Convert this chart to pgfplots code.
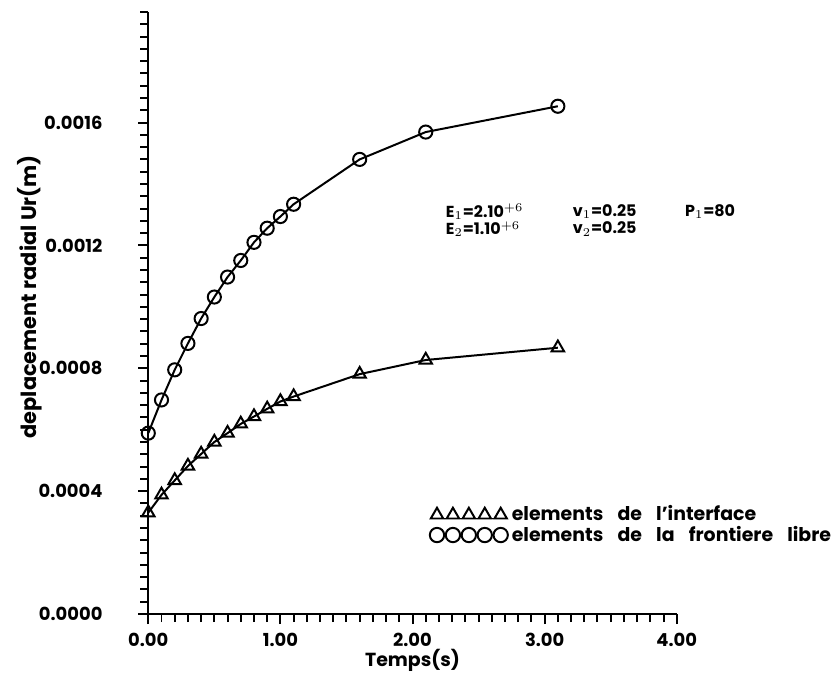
\documentclass[border=0pt]{standalone}
\usepackage{fontspec}
\setmainfont{Poppins}
\usepackage{pgfplots}
\pgfplotsset{compat=1.18}

\pgfplotstableread{
x y
0.0 0.000589
0.1 0.000697
0.2 0.000795
0.3 0.000881
0.4 0.000962
0.5 0.001032
0.6 0.001097
0.7 0.001151
0.8 0.001210
0.9 0.001256
1.0 0.001294
1.1 0.001334
1.6 0.001480
2.1 0.001569
3.1 0.001653
}\circdata

\pgfplotstableread{
x y
0.0 0.000330
0.1 0.000388
0.2 0.000435
0.3 0.000482
0.4 0.000521
0.5 0.000560
0.6 0.000589
0.7 0.000619
0.8 0.000643
0.9 0.000668
1.0 0.000692
1.1 0.000708
1.6 0.000781
2.1 0.000827
3.1 0.000867
}\tridata

\newcommand{\wsp}{\hspace{0.75em}}

\begin{document}
\begin{tikzpicture}[x=1pt,y=1pt]
\useasboundingbox (-74.5,-31.5) rectangle (347,308.5);
\begin{axis}[
  at={(0,0)}, anchor=south west,
  scale only axis, width=265.5pt, height=302.5pt,
  xmin=0, xmax=4, ymin=0, ymax=0.00196,
  enlargelimits=false, clip=false,
  axis lines=left,
  axis line style={-, line width=1.1pt},
  tick align=outside,
  major tick length=5pt, minor tick length=4pt,
  every tick/.style={black, line width=1pt},
  xtick={0,1,2,3,4},
  minor xtick={0,0.1,...,4.01},
  ytick={0,0.0004,0.0008,0.0012,0.0016},
  minor ytick={0,0.00004,...,0.00197},
  scaled y ticks=false,
  /pgf/number format/assume math mode=true,
  xticklabel style={/pgf/number format/fixed, /pgf/number format/fixed zerofill, /pgf/number format/precision=2, font=\bfseries\fontsize{9}{10}\selectfont, yshift=-1pt},
  yticklabel style={/pgf/number format/fixed, /pgf/number format/fixed zerofill, /pgf/number format/precision=4, font=\bfseries\fontsize{9}{10}\selectfont, xshift=-14.5pt},
  xlabel={Temps(s)},
  xlabel style={font=\bfseries\fontsize{9.5}{10}\selectfont, yshift=5.5pt},
  ylabel={deplacement radial Ur(m)},
  ylabel style={font=\bfseries\fontsize{10.5}{11}\selectfont, at={(axis description cs:-0.225,0.527)}, anchor=center},
  legend style={at={(0.532,0.187)}, anchor=north west, draw=none, fill=none,
    font=\bfseries\fontsize{9.5}{10}\selectfont, row sep=-3pt, inner sep=0pt,
    cells={anchor=west}},
  legend cell align=left,
]
\addplot[black, line width=1pt, mark=triangle, mark size=3.6pt, mark options={line width=1pt},
  legend image code/.code={
    \draw[black, line width=1pt] (-1pt,-1.8pt) -- (33pt,-1.8pt);
    \draw[black, line width=1pt, only marks, mark=triangle, mark size=3.6pt] plot coordinates {(0pt,0pt) (8pt,0pt) (16pt,0pt) (24pt,0pt) (32pt,0pt)};
  }] table[x=x,y=y] {\tridata};
\addlegendentry{elements\wsp de\wsp l'interface}
\addplot[black, line width=1pt, mark=o, mark size=3.3pt, mark options={line width=1pt},
  legend image code/.code={
    \draw[black, line width=1pt, only marks, mark=o, mark size=3.6pt] plot coordinates {(0pt,0pt) (8pt,0pt) (16pt,0pt) (24pt,0pt) (32pt,0pt)};
  }] table[x=x,y=y] {\circdata};
\addlegendentry{elements\wsp de\wsp la\wsp frontiere\wsp libre}

\node[anchor=west, font=\bfseries\fontsize{8}{8}\selectfont, inner sep=0pt] at (axis cs:2.25,0.00131) {E$_1$=2.10$^{+6}$};
\node[anchor=west, font=\bfseries\fontsize{8}{8}\selectfont, inner sep=0pt] at (axis cs:2.25,0.001253) {E$_2$=1.10$^{+6}$};
\node[anchor=west, font=\bfseries\fontsize{8}{8}\selectfont, inner sep=0pt] at (axis cs:3.21,0.00131) {v$_1$=0.25};
\node[anchor=west, font=\bfseries\fontsize{8}{8}\selectfont, inner sep=0pt] at (axis cs:3.21,0.001253) {v$_2$=0.25};
\node[anchor=west, font=\bfseries\fontsize{8}{8}\selectfont, inner sep=0pt] at (axis cs:4.06,0.00131) {P$_1$=80};
\end{axis}
\end{tikzpicture}
\end{document}
